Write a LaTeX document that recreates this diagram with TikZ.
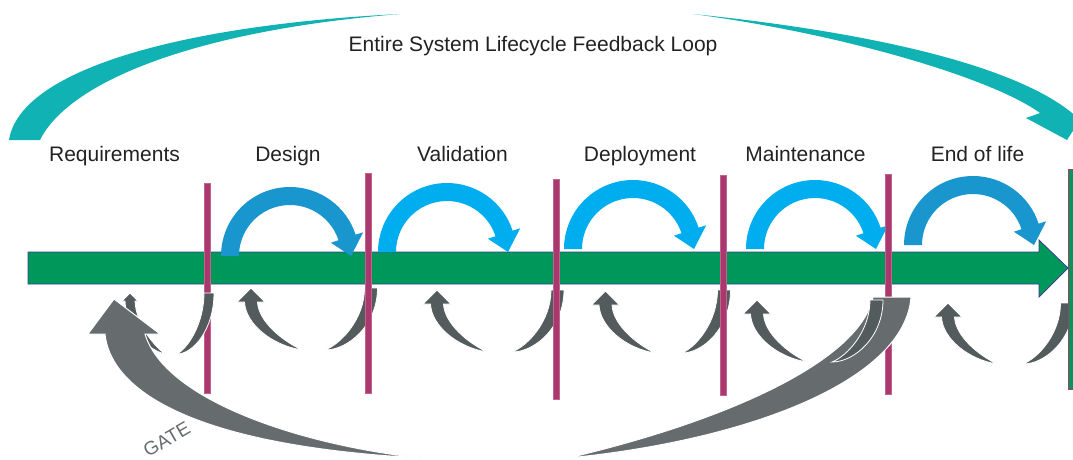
\documentclass[tikz,border=0pt]{standalone}
\usepackage{fontspec}
\setmainfont{Liberation Sans}
\usetikzlibrary{calc}
\definecolor{tealc}{RGB}{16,178,180}
\definecolor{blueA}{RGB}{26,150,206}
\definecolor{blueB}{RGB}{0,174,239}
\definecolor{grayloopc}{RGB}{83,91,93}
\definecolor{biggrayc}{RGB}{102,108,110}
\definecolor{greenc}{RGB}{0,152,90}
\definecolor{greenborder}{RGB}{58,58,150}
\definecolor{barc}{RGB}{168,56,110}
\definecolor{barborder}{RGB}{196,100,140}
\definecolor{textc}{RGB}{34,34,34}
\tikzset{
  grayloop/.style={fill=grayloopc,draw=white,line width=0.8pt},
  biggray/.style={fill=biggrayc,draw=white,line width=1pt},
  gatebar/.style={fill=barc,draw=barborder,line width=0.5pt},
  stagelabel/.style={anchor=base,text=textc,font=\fontsize{21}{25}\selectfont,inner sep=0pt},
}
\newcommand{\BlueArc}[3]{%
  \fill[#3] ($(#1,#2)+(180:69)$) arc[start angle=180,end angle=342,radius=69]
   -- ($(#1,#2)+(342:77)$) -- ($(#1,#2)+(0:61)$) -- ($(#1,#2)+(342:43)$)
   -- ($(#1,#2)+(342:51)$) arc[start angle=342,end angle=180,radius=51] -- cycle;}
\newcommand{\GrayLoop}[9]{%
  \filldraw[grayloop] (#3,#5) .. controls ({#3-0.4*(#3-#1)},{#5-0.2*(#5-#2-#8)}) and ({#1+#9+1},{#2+#8+0.4*(#5-#2-#8)}) .. ({#1+#9},{#2+#8})
    -- ({#1+#8},{#2+#8}) -- (#1,#2) -- ({#1-#8},{#2+#8}) -- ({#1-#9},{#2+#8})
    .. controls ({#1-#9+1},{#2+#8+0.45*(#5-#2-#8)}) and ({#3-0.6*(#3-#1)},{#5-0.1*(#5-#2-#8)}) .. (#3,#5) -- cycle;
  \filldraw[grayloop] ({#6+#9},#7) .. controls ({#6+#9},{#7+0.6*(#5-#7)}) and ({#4+0.5*(#6-#4)},#5) .. (#4,#5)
    .. controls ({#4+0.35*(#6-#4)},{#5-0.1*(#5-#7)}) and ({#6-#9},{#7+0.5*(#5-#7)}) .. ({#6-#9},#7) -- cycle;}
\begin{document}
\begin{tikzpicture}[x=1pt,y=1pt,yscale=-1]
\useasboundingbox (0,0) rectangle (1073,459);
\clip (0,0) rectangle (1073,459);
% teal feedback loop
\fill[tealc] (9,140) .. controls (20,70) and (180,25) .. (400,14) .. controls (200,30) and (70,80) .. (40,140) -- cycle;
\fill[tealc] (693,14) .. controls (850,30) and (1020,62) .. (1080,120) -- (1067,140) -- (1026,118) -- (1040,113) .. controls (995,80) and (850,35) .. (693,14) -- cycle;
\node[anchor=base,text=textc,font=\fontsize{21}{25}\selectfont,inner sep=0pt] (title) at (533,51) {Entire System Lifecycle Feedback Loop};
% main green arrow
\filldraw[fill=greenc,draw=greenborder,line width=0.8pt] (28,252) -- (1039,252) -- (1039,240) -- (1068,268) -- (1039,297) -- (1039,284) -- (28,284) -- cycle;
% blue loops
\BlueArc{290}{256}{blueA}
\BlueArc{447}{252}{blueB}
\BlueArc{633}{249}{blueB}
\BlueArc{815}{249}{blueB}
\BlueArc{973}{245}{blueA}
% gray loops
\GrayLoop{251}{288}{302}{325}{350}{371}{288}{14}{6.5}
\GrayLoop{437}{290}{487}{512}{352}{557.5}{290}{14}{6.5}
\GrayLoop{605.5}{291}{655}{682}{353}{724}{290}{14}{6.5}
\GrayLoop{948}{303}{997}{1023}{364}{1067}{303}{14}{6.5}
% gates
\filldraw[gatebar] (204,183) rectangle (210,393);
\filldraw[gatebar] (365,173) rectangle (371,393);
\filldraw[gatebar] (553,179) rectangle (559,399);
\filldraw[gatebar] (720,175) rectangle (726,395);
\filldraw[gatebar] (885,174) rectangle (891,394);
\filldraw[fill=greenc,draw=barc,line width=1pt] (1068,169) rectangle (1078,389);
% requirements loop
\GrayLoop{130}{293}{165}{177}{354}{209}{293}{8}{5}
% big gate arrow
\filldraw[biggray] (421,458) .. controls (300,445) and (165,400) .. (145,334) -- (160,334) -- (114,299) -- (88,334) -- (105,334) .. controls (110,385) and (180,445) .. (421,458) -- cycle;
\filldraw[biggray] (911,297) .. controls (905,380) and (750,440) .. (568,458) .. controls (730,420) and (860,360) .. (873,297) -- cycle;
% maintenance loop
\GrayLoop{757}{300}{807}{832}{362}{876.5}{300}{14}{6.5}
% labels
\node[stagelabel] (req) at (114.5,161) {Requirements};
\node[stagelabel] (des) at (288,161) {Design};
\node[stagelabel] (val) at (462.5,161) {Validation};
\node[stagelabel] (dep) at (640,161) {Deployment};
\node[stagelabel] (mai) at (805.5,161) {Maintenance};
\node[stagelabel] (eol) at (977.5,161) {End of life};
\node[anchor=base,rotate=30,text=biggrayc,font=\fontsize{19}{23}\selectfont,inner sep=0pt] (gate) at (170,445) {GATE};
\end{tikzpicture}
\end{document}
